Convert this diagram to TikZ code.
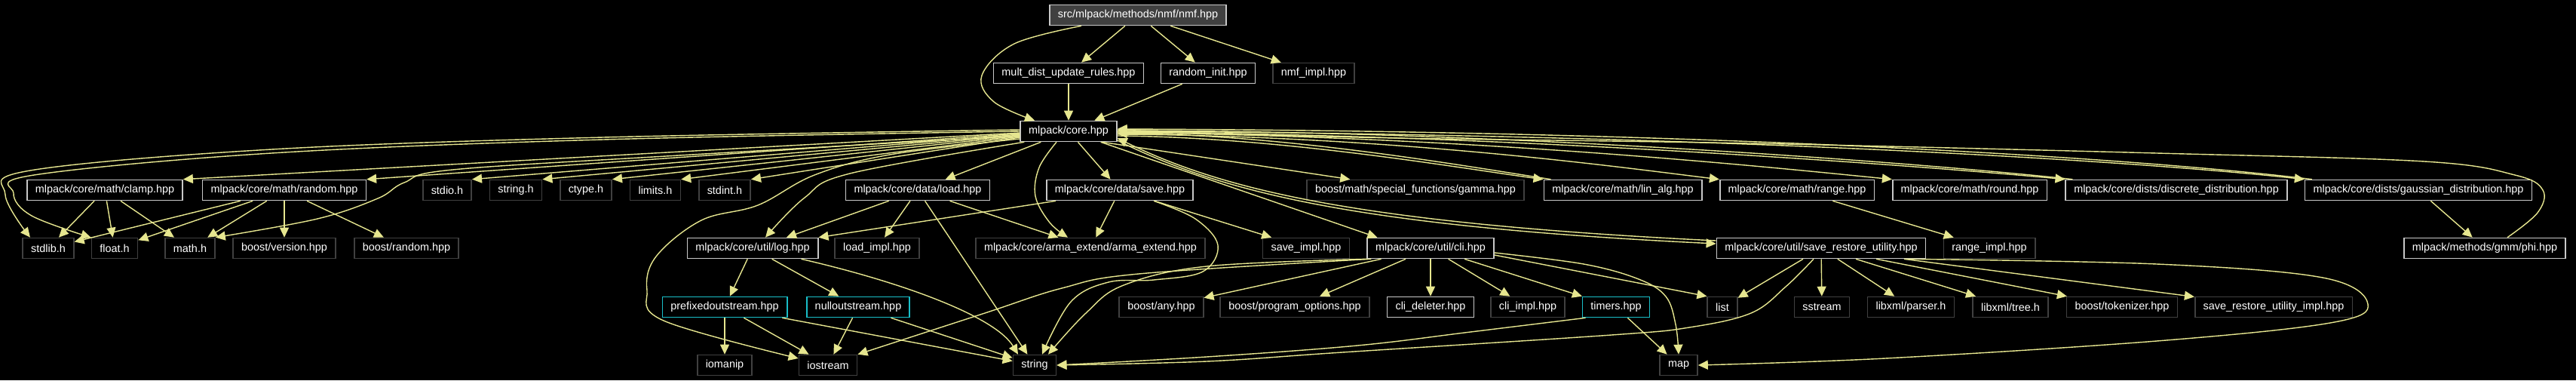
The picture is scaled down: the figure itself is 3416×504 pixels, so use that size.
\documentclass[tikz,border=0pt]{standalone}
\usepackage{fontspec}
\setmainfont{Liberation Sans}
\usetikzlibrary{arrows.meta,calc,backgrounds}
\definecolor{depline}{RGB}{230,230,143}
\definecolor{docline}{RGB}{200,200,200}
\definecolor{extline}{RGB}{64,64,64}
\definecolor{trunline}{RGB}{25,190,200}
\definecolor{rootfill}{RGB}{64,64,64}
\tikzset{
  hfile/.style={rectangle, draw=docline, fill=black, text=white, line width=0.32mm,
                minimum height=5.4mm, inner xsep=2.2mm, inner ysep=0pt,
                font=\fontsize{8.2}{9.8}\selectfont},
  docbox/.style={hfile},
  extbox/.style={hfile, draw=extline},
  trunbox/.style={hfile, draw=trunline},
  rootbox/.style={hfile, fill=rootfill},
  dep/.style={-{Triangle[length=2.6mm, width=2.4mm]}, draw=depline, line width=0.28mm},
  smoothdep/.style={dep, smooth, tension=0.6},
}

\begin{document}
\begin{tikzpicture}[x=0.2mm, y=-0.2mm]

\useasboundingbox (0,0) rectangle (3416,504);
\begin{scope}[on background layer]
  \fill[black] (0,0) rectangle (3416,504);
\end{scope}

% ================= the file and its own includes =================
\node[rootbox] (nmf) at (1509,20) {src/mlpack/methods/nmf/nmf.hpp};
\node[docbox] (mult) at (1417,97) {mult\_dist\_update\_rules.hpp};
\node[docbox] (rinit) at (1602,97) {random\_init.hpp};
\node[extbox] (nmfimpl) at (1742,97) {nmf\_impl.hpp};
\node[docbox] (core) at (1417,174) {mlpack/core.hpp};

% ================= what core.hpp pulls in =================
\node[docbox] (clamp) at (139,252) {mlpack/core/math/clamp.hpp};
\node[docbox] (random) at (377,252) {mlpack/core/math/random.hpp};
\node[extbox] (stdio) at (593,252) {stdio.h};
\node[extbox] (stringh) at (684,252) {string.h};
\node[extbox] (ctype) at (777,252) {ctype.h};
\node[extbox] (limits) at (869,252) {limits.h};
\node[extbox] (stdint) at (961,252) {stdint.h};
\node[docbox] (load) at (1217,252) {mlpack/core/data/load.hpp};
\node[docbox] (save) at (1485,252) {mlpack/core/data/save.hpp};
\node[extbox] (gamma) at (1877,252) {boost/math/special\_functions/gamma.hpp};
\node[docbox] (linalg) at (2152,252) {mlpack/core/math/lin\_alg.hpp};
\node[docbox] (range) at (2383,252) {mlpack/core/math/range.hpp};
\node[docbox] (round) at (2612,252) {mlpack/core/math/round.hpp};
\node[docbox] (discrete) at (2886,252) {mlpack/core/dists/discrete\_distribution.hpp};
\node[docbox] (gaussian) at (3207,252) {mlpack/core/dists/gaussian\_distribution.hpp};

\node[extbox] (stdlib) at (64,329) {stdlib.h};
\node[extbox] (float) at (152,329) {float.h};
\node[extbox] (math) at (252,329) {math.h};
\node[extbox] (bversion) at (377,329) {boost/version.hpp};
\node[extbox] (brandom) at (539,329) {boost/random.hpp};
\node[docbox] (log) at (998,329) {mlpack/core/util/log.hpp};
\node[extbox] (loadimpl) at (1163,329) {load\_impl.hpp};
\node[extbox] (arma) at (1446,329) {mlpack/core/arma\_extend/arma\_extend.hpp};
\node[extbox] (saveimpl) at (1732,329) {save\_impl.hpp};
\node[docbox] (cli) at (1897,329) {mlpack/core/util/cli.hpp};
\node[docbox] (sru) at (2415,329) {mlpack/core/util/save\_restore\_utility.hpp};
\node[extbox] (rangeimpl) at (2638,329) {range\_impl.hpp};
\node[docbox] (phi) at (3295,329) {mlpack/methods/gmm/phi.hpp};

% ================= lower levels =================
\node[trunbox] (prefixed) at (961,407) {prefixedoutstream.hpp};
\node[trunbox] (nullout) at (1138,407) {nulloutstream.hpp};
\node[extbox] (any) at (1540,407) {boost/any.hpp};
\node[extbox] (progopt) at (1717,407) {boost/program\_options.hpp};
\node[docbox] (clidel) at (1897,407) {cli\_deleter.hpp};
\node[extbox] (cliimpl) at (2026,407) {cli\_impl.hpp};
\node[trunbox] (timers) at (2143,407) {timers.hpp};
\node[extbox] (list) at (2284,407) {list};
\node[extbox] (sstream) at (2416,407) {sstream};
\node[extbox] (parser) at (2534,407) {libxml/parser.h};
\node[extbox] (tree) at (2666,407) {libxml/tree.h};
\node[extbox] (tokenizer) at (2814,407) {boost/tokenizer.hpp};
\node[extbox] (sruimpl) at (3015,407) {save\_restore\_utility\_impl.hpp};

\node[extbox] (iomanip) at (961,484) {iomanip};
\node[extbox] (iostream) at (1098,484) {iostream};
\node[extbox] (string) at (1372,484) {string};
\node[extbox] (map) at (2226,484) {map};

% ================= straight includes =================
\foreach \a/\b in {nmf/mult, nmf/rinit, nmf/nmfimpl, mult/core, rinit/core,
    core/load, core/save,
    clamp/stdlib, clamp/float, clamp/math,
    random/stdlib, random/float, random/math, random/bversion, random/brandom,
    load/loadimpl, load/arma, load/string, save/arma, save/saveimpl,
    log/prefixed, log/nullout,
    prefixed/iomanip, prefixed/iostream, prefixed/string, nullout/iostream, nullout/string,
    cli/any, cli/progopt, cli/clidel, cli/cliimpl, cli/timers, timers/map,
    sru/list, sru/sstream, sru/parser, sru/tree, sru/tokenizer, sru/sruimpl,
    range/rangeimpl, gaussian/phi}
  {\draw[dep] (\a) -- (\b);}

\foreach \t/\d in {clamp/2, random/3, stdio/4, stringh/5, ctype/6, limits/7, stdint/8}
  {\draw[dep] ($(core.west)+(0,\d)$) -- (\t.north east);}

\draw[dep] ($(load.south west)+(58,0)$) -- ($(log.north)+(45,0)$);
\draw[dep] ($(save.south west)+(13,0)$) -- (log.north east);
\draw[dep] ($(core.south east)+(-20,0)$) -- ($(gamma.north west)+(58,0)$);
\draw[dep] ($(core.south east)+(-22,0)$) -- ($(cli.north west)+(14,0)$);
\draw[dep] ($(cli.east)+(0,9)$) -- (list.north west);
\draw[dep] ($(log.south east)+(-23,0)$) .. controls (1200,375) and (1320,420) .. ($(string.north)+(-22,0)$);

% ================= long curved includes =================
\draw[smoothdep] plot coordinates {($(nmf.south)+(-75,0)$) (1345,58) (1302,100) (1318,135) ($(core.north)+(-45,0)$)};
\draw[smoothdep] plot coordinates {($(core.west)+(0,-2)$) (800,182) (360,198) (40,226) (7,258) ($(stdlib.north)+(-24,0)$)};
\draw[smoothdep] plot coordinates {(core.west) (800,185) (360,203) (45,232) (18,256) (42,286) (float.north west)};
\draw[smoothdep] plot coordinates {($(core.west)+(0,6)$) (900,206) (600,225) (536,242) (501,263) (421,290) (math.north east)};
\draw[smoothdep] plot coordinates {($(core.south west)+(6,0)$) (1127,230) (1067,262) ($(log.north)+(17,0)$)};
\draw[smoothdep] plot coordinates {($(core.west)+(0,10)$) (1180,205) (1080,232) (1005,272) (930,292) (870,340) (858,385) (880,425) ($(iostream.west)+(0,-9)$)};
\draw[smoothdep] plot coordinates {($(core.south)+(-16,0)$) (1378,222) (1373,260) (1392,295) ($(arma.north)+(-30,0)$)};
\draw[smoothdep] plot coordinates {($(save.south)+(45,0)$) (1585,290) (1615,325) (1595,360) (1530,371) (1470,374) (1420,400) ($(string.north)+(10,0)$)};
\draw[smoothdep] plot coordinates {(cli.south west) (1600,353) (1490,378) (1440,415) ($(string.north)+(18,0)$)};
\draw[smoothdep] plot coordinates {($(cli.south west)+(6,0)$) (1510,363) (1408,382) (1306,415) (iostream.north east)};
\draw[smoothdep] plot coordinates {($(timers.south west)+(5,0)$) (1950,440) (1800,458) (1600,473) (string.east)};
\draw[smoothdep] plot coordinates {($(sru.south)+(-10,0)$) (2368,380) (2322,415) (2240,434) (2137,444) (1780,467) (1600,479) (string.east)};
\draw[smoothdep] plot coordinates {($(sru.south east)+(-27,0)$) (2860,350) (3080,368) (3140,403) (3090,428) (2860,452) (2500,475) (map.east)};
\draw[smoothdep] plot coordinates {($(cli.east)+(0,6)$) (2100,350) (2173,370) (2209,393) (2222,430) (map.north)};
\draw[smoothdep] plot coordinates {($(phi.north)+(30,0)$) (3365,282) (3372,252) (3335,232) (3215,214) (2860,203) (2320,190) (1800,182) ($(core.east)+(0,-2)$)};

% ================= core.hpp fan to the right, and the way back =================
\draw[dep] ($(core.east)+(0,6)$) .. controls (1700,182) and (1930,222) .. (linalg.north west);
\draw[dep] ($(linalg.north west)+(10,0)$) .. controls (1930,218) and (1700,178) .. ($(core.east)+(0,3)$);
\draw[dep] ($(core.east)+(0,4)$) .. controls (1850,180) and (2150,222) .. (range.north west);
\draw[dep] ($(core.east)+(0,2)$) .. controls (1950,180) and (2350,222) .. (round.north west);
\draw[dep] ($(core.east)+(0,1)$) .. controls (2000,178) and (2550,220) .. (discrete.north west);
\draw[dep] ($(discrete.north west)+(10,0)$) .. controls (2550,216) and (2000,174) .. ($(core.east)+(0,-1)$);
\draw[dep] (core.east) .. controls (2300,178) and (2850,215) .. (gaussian.north west);
\draw[dep] ($(gaussian.north west)+(10,0)$) .. controls (2850,211) and (2300,174) .. ($(core.east)+(0,-3)$);
\draw[dep] ($(core.east)+(0,12)$) .. controls (1620,255) and (1800,300) .. ($(sru.west)+(0,-6)$);
\draw[dep] ($(sru.west)+(0,-10)$) .. controls (1800,296) and (1620,251) .. ($(core.east)+(0,9)$);

\end{tikzpicture}
\end{document}
